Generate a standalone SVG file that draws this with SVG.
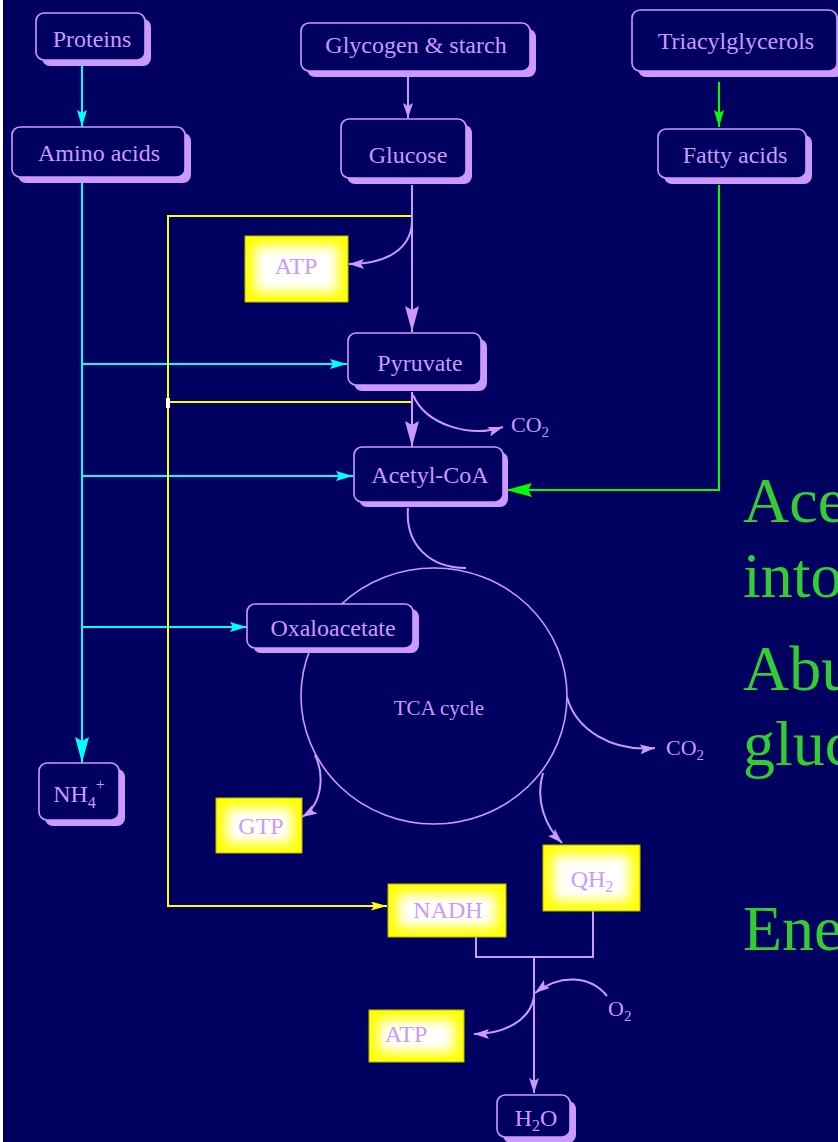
<svg xmlns="http://www.w3.org/2000/svg" width="838" height="1142" viewBox="0 0 838 1142">
<style>
.sh{fill:#CC99FF;stroke:none}
.bx{fill:#000060;stroke:#CC99FF;stroke-width:1.6}
.t{font-family:"Liberation Serif","Times New Roman",serif;font-size:24px;fill:#CC99FF;text-anchor:middle}
.ts{font-family:"Liberation Serif","Times New Roman",serif;font-size:22px;fill:#CC99FF}
.yb{fill:#FFFF00;stroke:#B8B800;stroke-width:1}
.yw{fill:#FFFFFF;filter:url(#glow)}
.cy{stroke:#00FFFF;stroke-width:2;fill:none}
.ye{stroke:#FFFF00;stroke-width:2;fill:none}
.gr{stroke:#00FF00;stroke-width:2;fill:none}
.lv{stroke:#CC99FF;stroke-width:2;fill:none}
.big{font-family:"Liberation Serif","Times New Roman",serif;font-size:64px;fill:#33CC33}
</style>
<defs>
<filter id="glow" x="-50%" y="-50%" width="200%" height="200%"><feGaussianBlur stdDeviation="6"/></filter>
<marker id="cyS" markerUnits="userSpaceOnUse" markerWidth="18" markerHeight="10" refX="17" refY="5" orient="auto"><path d="M0,0 L17,5 L0,10 L3,5 z" fill="#00FFFF"/></marker>
<marker id="cyL" markerUnits="userSpaceOnUse" markerWidth="27" markerHeight="14" refX="26" refY="7" orient="auto"><path d="M0,0 L26,7 L0,14 L4,7 z" fill="#00FFFF"/></marker>
<marker id="grS" markerUnits="userSpaceOnUse" markerWidth="18" markerHeight="10" refX="17" refY="5" orient="auto"><path d="M0,0 L17,5 L0,10 L3,5 z" fill="#00FF00"/></marker>
<marker id="grL" markerUnits="userSpaceOnUse" markerWidth="27" markerHeight="14" refX="26" refY="7" orient="auto"><path d="M0,0 L26,7 L0,14 L4,7 z" fill="#00FF00"/></marker>
<marker id="yeS" markerUnits="userSpaceOnUse" markerWidth="17" markerHeight="9" refX="16" refY="4.5" orient="auto"><path d="M0,0 L16,4.5 L0,9 L3,4.5 z" fill="#FFFF00"/></marker>
<marker id="lvS" markerUnits="userSpaceOnUse" markerWidth="16" markerHeight="10" refX="15" refY="5" orient="auto"><path d="M0,0 L15,5 L0,10 L3,5 z" fill="#CC99FF"/></marker>
<marker id="lvL" markerUnits="userSpaceOnUse" markerWidth="27" markerHeight="14" refX="26" refY="7" orient="auto"><path d="M0,0 L26,7 L0,14 L4,7 z" fill="#CC99FF"/></marker>
</defs>
<rect x="0" y="0" width="838" height="1142" fill="#000060"/>
<rect x="0" y="0" width="3" height="1142" fill="#FFFFFF"/>

<g id="connectors">
<path class="cy" d="M82,66 V127" marker-end="url(#cyS)"/>
<path class="cy" d="M82,183 V763" marker-end="url(#cyL)"/>
<path class="cy" d="M82,364 H347" marker-end="url(#cyS)"/>
<path class="cy" d="M82,476 H353" marker-end="url(#cyS)"/>
<path class="cy" d="M82,627 H247" marker-end="url(#cyS)"/>
<path class="lv" d="M408,77 V118" marker-end="url(#lvS)"/>
<path class="gr" d="M719,82 V127" marker-end="url(#grS)"/>
<path class="gr" d="M719,185 V490 H506" marker-end="url(#grL)"/>
<path class="ye" d="M412,216 H168 V906 H387" marker-end="url(#yeS)"/>
<path class="ye" d="M412,402 H168"/>
<rect x="166" y="398" width="4" height="10" fill="#FFFFFF"/>
<path class="lv" d="M412,185 V332" marker-end="url(#lvL)"/>
<path class="lv" d="M412,222 C411,248 388,264 349,264" marker-end="url(#lvS)"/>
<path class="lv" d="M412,392 V447" marker-end="url(#lvL)"/>
<path class="lv" d="M413,395 C426,425 470,438 503,427" marker-end="url(#lvS)"/>
<path class="lv" stroke-width="1.6" d="M408,508 C405,545 430,568 466,568"/>
<ellipse cx="434" cy="696" rx="133" ry="128" fill="none" stroke="#CC99FF" stroke-width="1.6"/>
<path class="lv" stroke-width="1.6" d="M567,697 C576,730 612,752 655,748" marker-end="url(#lvS)"/>
<path class="lv" stroke-width="1.6" d="M315,755 C325,776 322,805 302,817" marker-end="url(#lvS)"/>
<path class="lv" stroke-width="1.6" d="M543,773 C535,800 545,826 562,843" marker-end="url(#lvS)"/>
<path class="lv" d="M476,937 V957 H593 V911"/>
<path class="lv" d="M534,957 V1093" marker-end="url(#lvS)"/>
<path class="lv" d="M607,996 C590,975 560,974 535,993" marker-end="url(#lvS)"/>
<path class="lv" d="M534,997 C530,1020 505,1034 474,1034" marker-end="url(#lvS)"/>
</g>

<g id="proteins"><rect class="sh" x="42" y="19" width="109" height="47" rx="8"/><rect class="bx" x="36" y="13" width="109" height="47" rx="8"/><text class="t" x="92" y="47">Proteins</text></g>
<g id="amino-acids"><rect class="sh" x="18" y="133" width="173" height="50" rx="8"/><rect class="bx" x="12" y="127" width="173" height="50" rx="8"/><text class="t" x="99" y="161">Amino acids</text></g>
<g id="glycogen"><rect class="sh" x="307" y="29" width="229" height="48" rx="8"/><rect class="bx" x="301" y="23" width="229" height="48" rx="8"/><text class="t" x="416" y="53">Glycogen &amp; starch</text></g>
<g id="glucose"><rect class="sh" x="347" y="125" width="125" height="59" rx="8"/><rect class="bx" x="341" y="119" width="125" height="59" rx="8"/><text class="t" x="408" y="163">Glucose</text></g>
<g id="triacylglycerols"><rect class="sh" x="638" y="16" width="205" height="61" rx="8"/><rect class="bx" x="632" y="10" width="205" height="61" rx="8"/><text class="t" x="736" y="49">Triacylglycerols</text></g>
<g id="fatty-acids"><rect class="sh" x="664" y="135" width="148" height="49" rx="8"/><rect class="bx" x="658" y="129" width="148" height="49" rx="8"/><text class="t" x="735" y="163">Fatty acids</text></g>
<g id="pyruvate"><rect class="sh" x="354" y="339" width="133" height="52" rx="8"/><rect class="bx" x="348" y="333" width="133" height="52" rx="8"/><text class="t" x="420" y="371">Pyruvate</text></g>
<g id="acetyl-coa"><rect class="sh" x="359" y="452" width="149" height="55" rx="8"/><rect class="bx" x="354" y="447" width="149" height="55" rx="8"/><text class="t" x="430" y="483">Acetyl-CoA</text></g>
<g id="oxaloacetate"><rect class="sh" x="253" y="609" width="166" height="44" rx="8"/><rect class="bx" x="247" y="604" width="166" height="44" rx="8"/><text class="t" x="333" y="636">Oxaloacetate</text></g>
<g id="tca"><text class="t" style="font-size:21px" x="439" y="715">TCA cycle</text></g>
<g id="nh4"><rect class="sh" x="45" y="769" width="80" height="57" rx="8"/><rect class="bx" x="39" y="763" width="80" height="57" rx="8"/><text class="t" x="79" y="802">NH<tspan font-size="16" dy="6">4</tspan><tspan font-size="16" dy="-18">+</tspan></text></g>
<g id="h2o"><rect class="sh" x="503" y="1101" width="73" height="42" rx="8"/><rect class="bx" x="497" y="1095" width="73" height="42" rx="8"/><text class="t" x="536" y="1126">H<tspan font-size="16" dy="5">2</tspan><tspan dy="-5">O</tspan></text></g>

<g id="atp-1"><rect class="yb" x="245" y="236" width="103" height="66"/><rect class="yw" x="255" y="246" width="83" height="46"/><text class="t" x="296" y="274">ATP</text></g>
<g id="gtp"><rect class="yb" x="216" y="798" width="86" height="55"/><rect class="yw" x="226" y="808" width="66" height="35"/><text class="t" x="261" y="834">GTP</text></g>
<g id="qh2"><rect class="yb" x="543" y="845" width="97" height="66"/><rect class="yw" x="553" y="855" width="77" height="46"/><text class="t" x="592" y="887">QH<tspan font-size="16" dy="5">2</tspan></text></g>
<g id="nadh"><rect class="yb" x="388" y="884" width="118" height="53"/><rect class="yw" x="398" y="894" width="98" height="33"/><text class="t" x="448" y="918">NADH</text></g>
<g id="atp-2"><rect class="yb" x="369" y="1010" width="95" height="52"/><rect class="yw" x="379" y="1020" width="75" height="32"/><text class="t" x="406" y="1042">ATP</text></g>

<g id="labels">
<text class="ts" x="511" y="432">CO<tspan font-size="15" dy="5">2</tspan></text>
<text class="ts" x="666" y="755">CO<tspan font-size="15" dy="5">2</tspan></text>
<text class="ts" x="608" y="1016">O<tspan font-size="15" dy="5">2</tspan></text>
</g>

<g id="side-text">
<text class="big" x="743" y="522">Ace</text>
<text class="big" x="743" y="597">into</text>
<text class="big" x="743" y="690">Abu</text>
<text class="big" x="743" y="765">gluc</text>
<text class="big" x="743" y="950">Ene</text>
</g>
</svg>
